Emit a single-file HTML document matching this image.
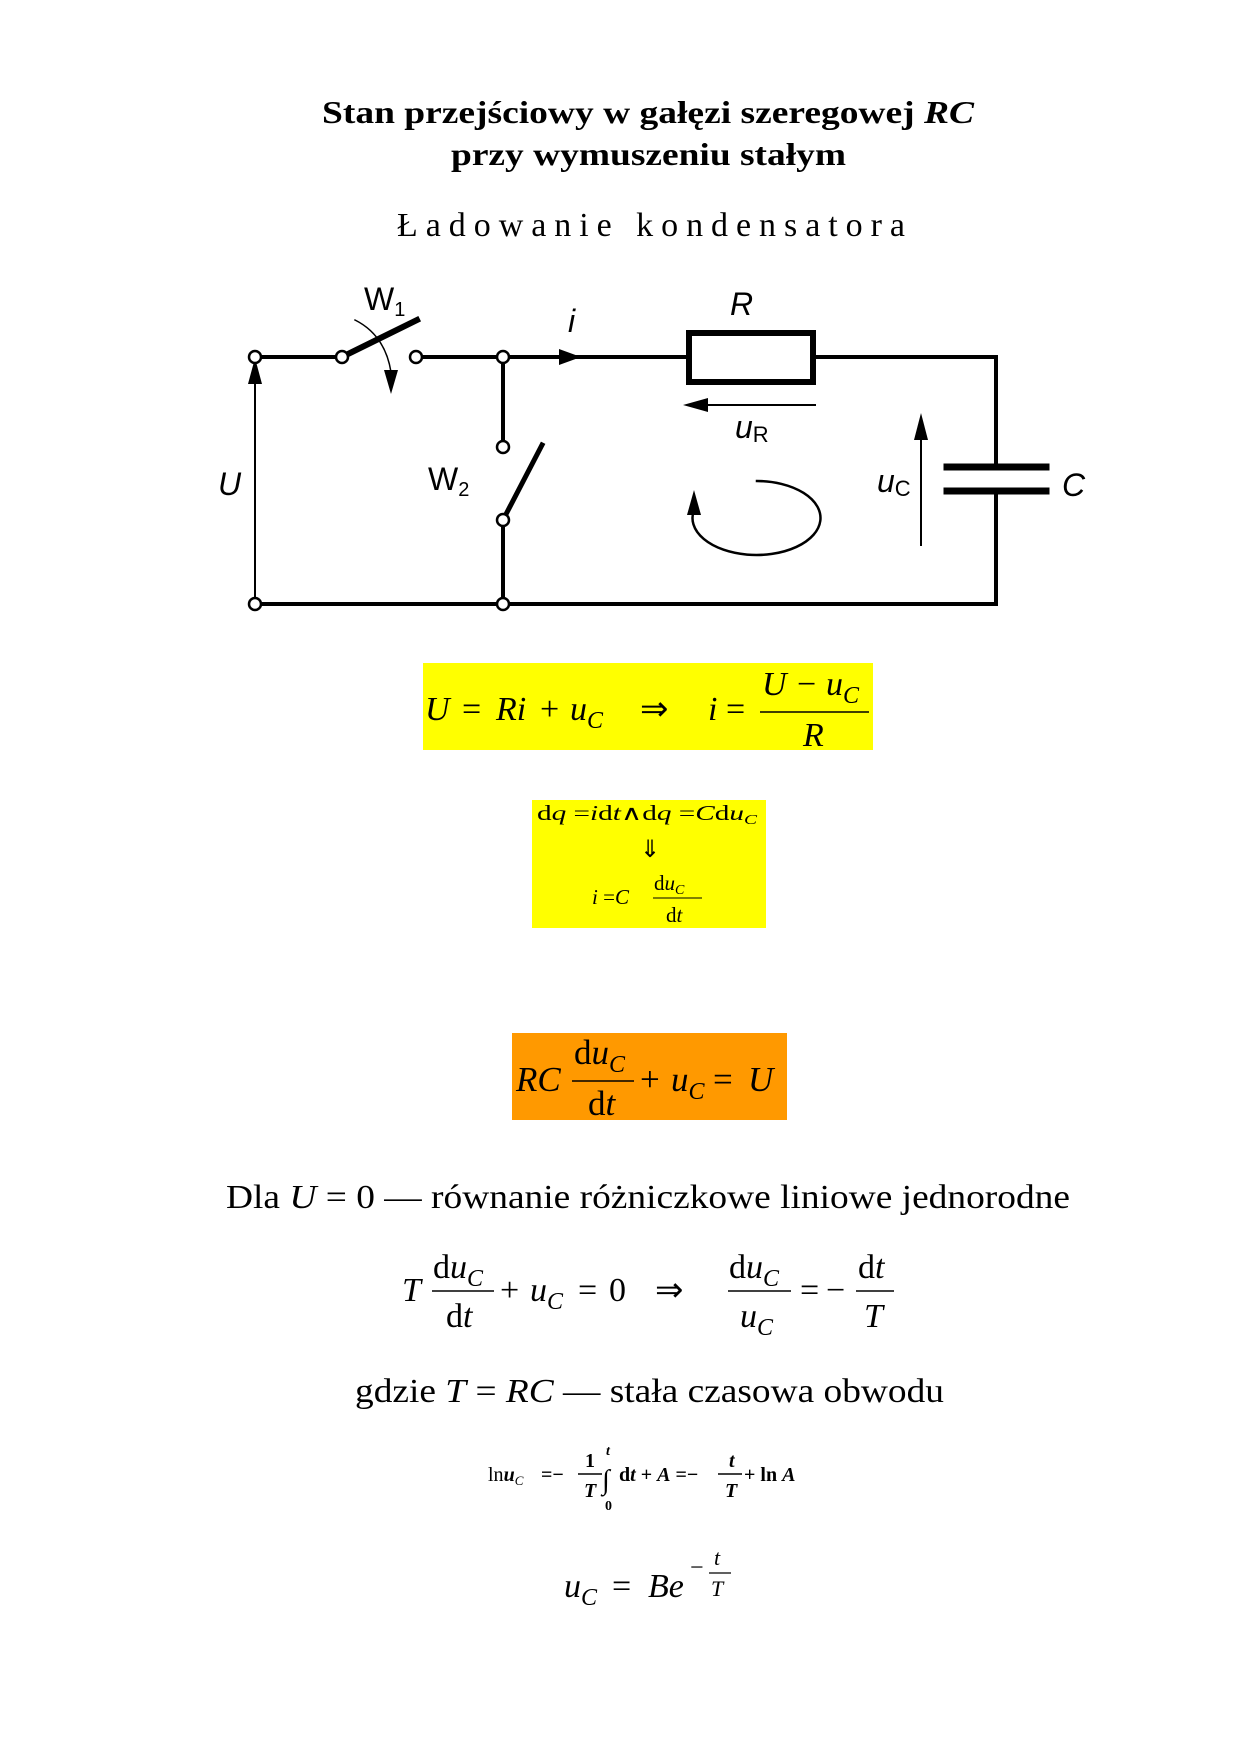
<!DOCTYPE html>
<html><head><meta charset="utf-8"><style>
html,body{margin:0;padding:0;background:#fff;}
svg{display:block;}
.s{font-family:"Liberation Serif",serif;}
.i{font-style:italic;}
.a{font-family:"Liberation Sans",sans-serif;font-style:italic;}
</style></head><body>
<svg width="1240" height="1754" viewBox="0 0 1240 1754" xmlns="http://www.w3.org/2000/svg">
<rect width="1240" height="1754" fill="#fff"/>
<!-- Title -->
<text class="s" x="322" y="123" font-size="32" font-weight="bold" textLength="652" lengthAdjust="spacingAndGlyphs">Stan przejściowy w gałęzi szeregowej <tspan font-style="italic">RC</tspan></text>
<text class="s" x="451" y="165" font-size="32" font-weight="bold" textLength="395" lengthAdjust="spacingAndGlyphs">przy wymuszeniu stałym</text>
<text class="s" x="397" y="236" font-size="34" textLength="508" lengthAdjust="spacing">Ładowanie kondensatora</text>

<!-- Circuit -->
<g stroke="#000" fill="none" stroke-linecap="square">
<line x1="255" y1="357" x2="342" y2="357" stroke-width="4"/>
<line x1="342" y1="357" x2="417" y2="320" stroke-width="6"/>
<line x1="416" y1="357" x2="687" y2="357" stroke-width="4"/>
<rect x="689" y="333" width="124" height="49" stroke-width="6"/>
<polyline points="815,357 996,357 996,466" stroke-width="4"/>
<line x1="947" y1="467" x2="1046" y2="467" stroke-width="7"/>
<line x1="947" y1="491" x2="1046" y2="491" stroke-width="7"/>
<polyline points="996,491 996,604 255,604" stroke-width="4"/>
<line x1="255" y1="604" x2="255" y2="380" stroke-width="2"/>
<line x1="503" y1="357" x2="503" y2="447" stroke-width="4"/>
<line x1="503" y1="520" x2="542" y2="445" stroke-width="5"/>
<line x1="503" y1="520" x2="503" y2="604" stroke-width="4"/>
<line x1="815" y1="405" x2="700" y2="405" stroke-width="2"/>
<line x1="921" y1="545" x2="921" y2="430" stroke-width="2"/>
<path d="M355 320 Q385 335 391 372" stroke-width="1.5"/>
<path d="M757 481 A64 37 0 1 1 694 510" stroke-width="2.5"/>
</g>
<g fill="#000">
<polygon points="255,358 248,384 262,384"/>
<polygon points="581,357 559,349 559,365"/>
<polygon points="683,405 708,398 708,412"/>
<polygon points="921,413 914,440 928,440"/>
<polygon points="391,394 384,370 398,370"/>
<polygon points="694,490 687,515 701,515"/>
</g>
<g fill="#fff" stroke="#000" stroke-width="2.5">
<circle cx="255" cy="357" r="6"/><circle cx="342" cy="357" r="6"/><circle cx="416" cy="357" r="6"/>
<circle cx="503" cy="357" r="6"/><circle cx="503" cy="447" r="6"/><circle cx="503" cy="520" r="6"/>
<circle cx="255" cy="604" r="6"/><circle cx="503" cy="604" r="6"/>
</g>
<text x="364" y="310" font-size="32" font-family="Liberation Sans,sans-serif">W<tspan font-size="20" dy="6">1</tspan></text>
<text x="428" y="490" font-size="32" font-family="Liberation Sans,sans-serif">W<tspan font-size="20" dy="6">2</tspan></text>
<text class="a" x="568" y="332" font-size="32">i</text>
<text class="a" x="730" y="315" font-size="32">R</text>
<text class="a" x="735" y="438" font-size="32">u<tspan font-size="22" font-style="normal" dy="4">R</tspan></text>
<text class="a" x="877" y="492" font-size="32">u<tspan font-size="22" font-style="normal" dy="4">C</tspan></text>
<text class="a" x="1062" y="496" font-size="32">C</text>
<text class="a" x="218" y="495" font-size="32">U</text>

<!-- Box 1 -->
<rect x="423" y="663" width="450" height="87" fill="#ffff00"/>
<g class="s i" font-size="34">
<text x="425" y="720">U</text><text x="462" y="720" font-style="normal">=</text>
<text x="496" y="720">Ri</text><text x="540" y="720" font-style="normal">+</text>
<text x="570" y="720">u<tspan font-size="24" dy="8">C</tspan></text>
<text x="640" y="720" font-style="normal">⇒</text>
<text x="708" y="720">i</text><text x="726" y="720" font-style="normal">=</text>
<text x="762" y="695">U</text><text x="797" y="695" font-style="normal">−</text>
<text x="826" y="695">u<tspan font-size="24" dy="8">C</tspan></text>
<text x="803" y="746">R</text>
</g>
<line x1="760" y1="712" x2="869" y2="712" stroke="#000" stroke-width="1.5"/>

<!-- Box 2 -->
<rect x="532" y="800" width="234" height="128" fill="#ffff00"/>
<text class="s" x="537" y="820" font-size="21" textLength="220" lengthAdjust="spacingAndGlyphs">d<tspan font-style="italic">q</tspan> =<tspan font-style="italic">i</tspan>d<tspan font-style="italic">t</tspan>∧d<tspan font-style="italic">q</tspan> =<tspan font-style="italic">C</tspan>d<tspan font-style="italic">u</tspan><tspan font-size="14" font-style="italic" dy="4">C</tspan></text>
<text class="s" x="640" y="857" font-size="24">⇓</text>
<text class="s" x="592" y="904" font-size="21"><tspan font-style="italic">i</tspan> =<tspan font-style="italic">C</tspan></text>
<text class="s" x="654" y="890" font-size="21">d<tspan font-style="italic">u</tspan><tspan font-size="14" font-style="italic" dy="4">C</tspan></text>
<text class="s" x="666" y="922" font-size="21">d<tspan font-style="italic">t</tspan></text>
<line x1="653" y1="898" x2="702" y2="898" stroke="#000" stroke-width="1"/>

<!-- Orange box -->
<rect x="512" y="1033" width="275" height="87" fill="#ff9900"/>
<g class="s" font-size="35">
<text x="516" y="1091" font-style="italic">RC</text>
<text x="574" y="1064">d<tspan font-style="italic">u</tspan><tspan font-size="24" font-style="italic" dy="8">C</tspan></text>
<text x="588" y="1115">d<tspan font-style="italic">t</tspan></text>
<text x="640" y="1091">+</text>
<text x="671" y="1091" font-style="italic">u<tspan font-size="24" dy="8">C</tspan></text>
<text x="713" y="1091">=</text>
<text x="748" y="1091" font-style="italic">U</text>
</g>
<line x1="572" y1="1081" x2="634" y2="1081" stroke="#000" stroke-width="1.5"/>

<!-- Dla line -->
<text class="s" x="226" y="1208" font-size="34" textLength="844" lengthAdjust="spacingAndGlyphs">Dla <tspan font-style="italic">U</tspan> = 0 — równanie różniczkowe liniowe jednorodne</text>

<!-- T eq -->
<g class="s" font-size="34">
<text x="402" y="1301" font-style="italic">T</text>
<text x="433" y="1278">d<tspan font-style="italic">u</tspan><tspan font-size="24" font-style="italic" dy="8">C</tspan></text>
<text x="446" y="1327">d<tspan font-style="italic">t</tspan></text>
<text x="500" y="1301">+</text>
<text x="530" y="1301" font-style="italic">u<tspan font-size="24" dy="8">C</tspan></text>
<text x="578" y="1301">=</text>
<text x="609" y="1301">0</text>
<text x="655" y="1301">⇒</text>
<text x="729" y="1278">d<tspan font-style="italic">u</tspan><tspan font-size="24" font-style="italic" dy="8">C</tspan></text>
<text x="740" y="1327" font-style="italic">u<tspan font-size="24" dy="8">C</tspan></text>
<text x="800" y="1301">=</text>
<text x="826" y="1301">−</text>
<text x="858" y="1278">d<tspan font-style="italic">t</tspan></text>
<text x="864" y="1327" font-style="italic">T</text>
</g>
<g stroke="#000" stroke-width="1.5">
<line x1="432" y1="1291" x2="494" y2="1291"/><line x1="728" y1="1291" x2="791" y2="1291"/><line x1="856" y1="1291" x2="894" y2="1291"/>
</g>

<!-- gdzie -->
<text class="s" x="355" y="1402" font-size="34" textLength="589" lengthAdjust="spacingAndGlyphs">gdzie <tspan font-style="italic">T</tspan> = <tspan font-style="italic">RC</tspan> — stała czasowa obwodu</text>

<!-- ln eq -->
<g class="s" font-size="20" font-weight="bold">
<text x="488" y="1481" font-weight="normal">ln<tspan font-style="italic" font-weight="bold">u</tspan><tspan font-size="13" font-style="italic" dy="4">C</tspan></text>
<text x="541" y="1481">=−</text>
<text x="585" y="1467">1</text><text x="584" y="1497" font-style="italic">T</text>
<text x="602" y="1489" font-size="28" font-weight="normal">∫</text>
<text x="606" y="1455" font-size="14" font-style="italic">t</text><text x="605" y="1510" font-size="14">0</text>
<text x="619" y="1481">d<tspan font-style="italic">t</tspan> + <tspan font-style="italic">A</tspan> =−</text>
<text x="729" y="1467" font-style="italic">t</text><text x="725" y="1497" font-style="italic">T</text>
<text x="744" y="1481">+ ln <tspan font-style="italic">A</tspan></text>
</g>
<g stroke="#000" stroke-width="1.5"><line x1="578" y1="1474" x2="602" y2="1474"/><line x1="718" y1="1474" x2="742" y2="1474"/></g>

<!-- u_C = Be -->
<g class="s" font-size="34">
<text x="564" y="1597" font-style="italic">u<tspan font-size="24" dy="8">C</tspan></text>
<text x="612" y="1597">=</text>
<text x="648" y="1597" font-style="italic">Be</text>
<text x="690" y="1575" font-size="24">−</text>
<text x="714" y="1565" font-size="22" font-style="italic">t</text>
<text x="711" y="1596" font-size="22" font-style="italic">T</text>
</g>
<line x1="709" y1="1573" x2="731" y2="1573" stroke="#000" stroke-width="1.2"/>
</svg>
</body></html>
